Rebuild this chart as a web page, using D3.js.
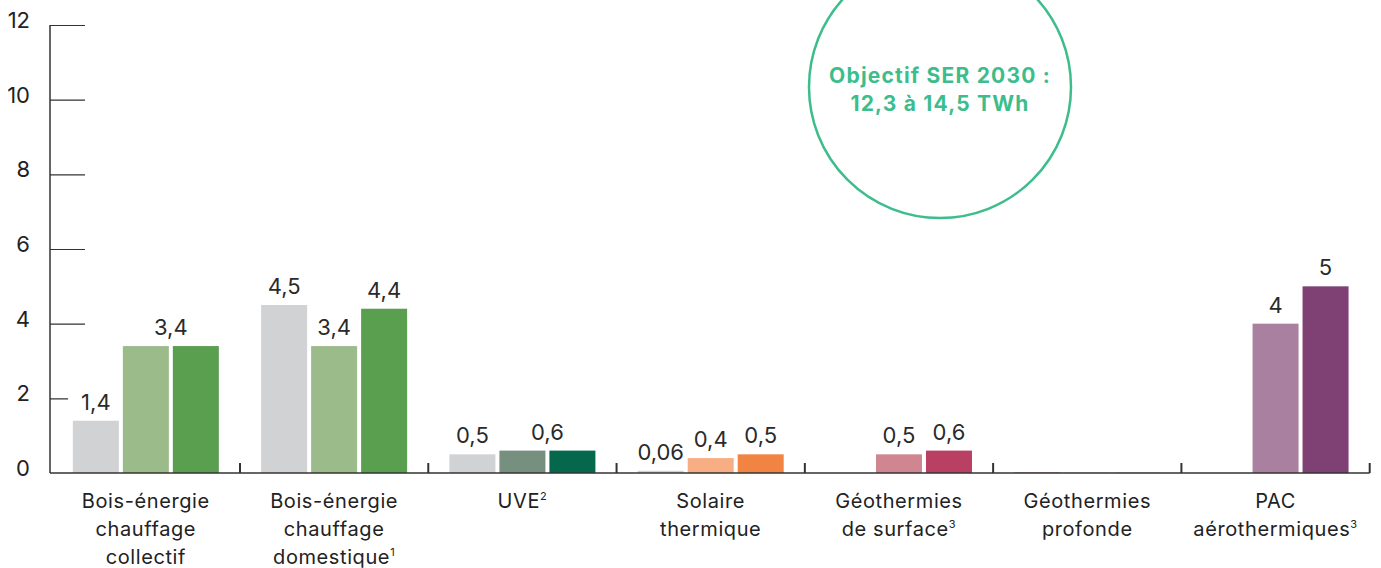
<!DOCTYPE html>
<html lang="fr">
	<head>
		<meta charset="utf-8">
		<title>chaleur renouvelable</title>
		<script type="text/javascript" src="https://cdn.jsdelivr.net/npm/d3@7"></script>
		<style type="text/css">
			body { margin: 0; background: #fff; }
			text { font-family: Inter, "Liberation Sans", sans-serif; }
		</style>
	</head>
	<body>
		<script type="text/javascript">

// categories (lines of the label, superscript note)
var categories = ["bois_coll", "bois_dom", "uve", "solaire", "geo_surf", "geo_prof", "pac"]
var catLines = [
	["Bois-énergie", "chauffage", "collectif"],
	["Bois-énergie", "chauffage", "domestique"],
	["UVE"],
	["Solaire", "thermique"],
	["Géothermies", "de surface"],
	["Géothermies", "profonde"],
	["PAC", "aérothermiques"]
]
var catNotes = ["", "1", "2", "", "3", "", "3"]

// three bars per category (null = no bar)
var barKeys = ["b1", "b2", "b3"]
var values = [
	[1.4, 3.4, 3.4],
	[4.5, 3.4, 4.4],
	[0.5, 0.6, 0.6],
	[0.06, 0.4, 0.5],
	[null, 0.5, 0.6],
	[0.01, 0.01, 0.01],
	[null, 4, 5]
]
var colors = [
	["#d1d2d4", "#9bbb8b", "#5a9e50"],
	["#d1d2d4", "#9bbb8b", "#5a9e50"],
	["#d1d2d4", "#778f7f", "#05674b"],
	["#d1d2d4", "#f8ae84", "#f28443"],
	["#d1d2d4", "#d08690", "#b94062"],
	["#8a2a45", "#c8c8c8", "#a8a8a8"],
	["#d1d2d4", "#a980a0", "#7f4074"]
]
// value labels: category index, first bar, last bar, text
var labels = [
	[0, 0, 0, "1,4"], [0, 1, 2, "3,4"],
	[1, 0, 0, "4,5"], [1, 1, 1, "3,4"], [1, 2, 2, "4,4"],
	[2, 0, 0, "0,5"], [2, 1, 2, "0,6"],
	[3, 0, 0, "0,06"], [3, 1, 1, "0,4"], [3, 2, 2, "0,5"],
	[4, 1, 1, "0,5"], [4, 2, 2, "0,6"],
	[6, 1, 1, "4"], [6, 2, 2, "5"]
]
var yTicks = [0, 2, 4, 6, 8, 10, 12]

var w = 1381, h = 568
var svg = d3.select("body").append("svg")
	.attr("width", w).attr("height", h)

var y = d3.scaleLinear().domain([0, 12]).range([473, 25])
var x = d3.scaleBand().domain(categories).range([51.7, 1369.7])
var xb = d3.scaleBand().domain(barKeys).range([0, x.bandwidth()])
	.paddingInner(0.08).paddingOuter(0.423)

// y axis: ticks extend to the right
var yAxis = d3.axisRight(y).tickValues(yTicks.slice(1)).tickSize(35).tickFormat("")
var ga = svg.append("g").attr("transform", "translate(50,0)").call(yAxis)
ga.select(".domain").remove()
ga.selectAll(".tick line").attr("stroke", "#333").attr("stroke-width", 1.2)
svg.append("line")
	.attr("x1", 50).attr("x2", 50).attr("y1", y(12)).attr("y2", y(0))
	.attr("stroke", "#333").attr("stroke-width", 1.5)

svg.selectAll(".ylab")
	.data(yTicks)
	.enter()
	.append("text")
	.attr("class", "ylab")
	.attr("x", 30)
	.attr("y", function(d) { return y(d) + 3 })
	.attr("text-anchor", "end")
	.attr("font-size", "22px")
	.attr("fill", "#222")
	.text(function(d) { return d })

function labelX(d) {
	var c = categories[d[0]]
	return x(c) + (xb(barKeys[d[1]]) + xb(barKeys[d[2]]) + xb.bandwidth()) / 2
}
function labelY(d) {
	var v = d3.max(values[d[0]].slice(d[1], d[2] + 1))
	return y(v) - 11
}

// value label text (drawn first to measure, then the white patches go under it)
var patches = svg.append("g")
var bars = svg.append("g")
var vl = svg.append("g")

vl.selectAll("text")
	.data(labels)
	.enter()
	.append("text")
	.attr("x", labelX)
	.attr("y", labelY)
	.attr("text-anchor", "middle")
	.attr("font-size", "22px")
	.attr("fill", "#2a2a2a")
	.text(function(d) { return d[3] })

// white patch behind each label so axis ticks stop short (bars drawn over)
vl.selectAll("text").each(function() {
	var b = this.getBBox()
	patches.append("rect")
		.attr("x", b.x - 13).attr("y", b.y + 2)
		.attr("width", b.width + 26).attr("height", b.height - 4)
		.attr("fill", "#fff")
})

// bars
var groups = bars.selectAll(".grp")
	.data(categories)
	.enter()
	.append("g")
	.attr("transform", function(d) { return "translate(" + x(d) + ",0)" })

groups.selectAll("rect")
	.data(function(d, i) {
		return barKeys.map(function(k, j) { return { k: k, v: values[i][j], c: colors[i][j] } })
			.filter(function(e) { return e.v != null })
	})
	.enter()
	.append("rect")
	.attr("x", function(d) { return xb(d.k) })
	.attr("width", xb.bandwidth())
	.attr("y", function(d) { return y(d.v) })
	.attr("height", function(d) { return y(0) - y(d.v) })
	.attr("fill", function(d) { return d.c })

// baseline and group separators
svg.append("line")
	.attr("x1", 50).attr("x2", x.range()[1])
	.attr("y1", y(0)).attr("y2", y(0))
	.attr("stroke", "#333").attr("stroke-width", 1.5)

svg.selectAll(".sep")
	.data(categories)
	.enter()
	.append("line")
	.attr("x1", function(d) { return x(d) + x.bandwidth() })
	.attr("x2", function(d) { return x(d) + x.bandwidth() })
	.attr("y1", y(0) - 10).attr("y2", y(0))
	.attr("stroke", "#333").attr("stroke-width", 2)

// category labels
var cl = svg.selectAll(".cat")
	.data(categories)
	.enter()
	.append("text")
	.attr("class", "cat")
	.attr("text-anchor", "middle")
	.attr("font-size", "20px")
	.attr("letter-spacing", "0.6px")
	.attr("fill", "#222")

cl.each(function(d, i) {
	var t = d3.select(this)
	var cx = x(d) + x.bandwidth() / 2
	catLines[i].forEach(function(line, j) {
		t.append("tspan")
			.attr("x", cx)
			.attr("y", 508 + j * 28)
			.text(line)
		if (j == catLines[i].length - 1 && catNotes[i] != "") {
			t.append("tspan")
				.attr("dy", -8)
				.attr("font-size", "11px")
				.text(catNotes[i])
		}
	})
})

// 2030 objective bubble
var bubble = svg.append("g").attr("transform", "translate(940,87)")
bubble.append("circle")
	.attr("r", 131)
	.attr("fill", "none")
	.attr("stroke", "#3dbd8c")
	.attr("stroke-width", 2.5)
bubble.append("text")
	.attr("text-anchor", "middle")
	.attr("font-size", "21px")
	.attr("font-weight", "bold")
	.attr("letter-spacing", "1.2px")
	.attr("fill", "#3dbd8c")
	.selectAll("tspan")
	.data(["Objectif SER 2030 :", "12,3 à 14,5 TWh"])
	.enter()
	.append("tspan")
	.attr("x", 0)
	.attr("y", function(d, i) { return -4 + i * 28 })
	.text(function(d) { return d })

		</script>
	</body>
</html>
